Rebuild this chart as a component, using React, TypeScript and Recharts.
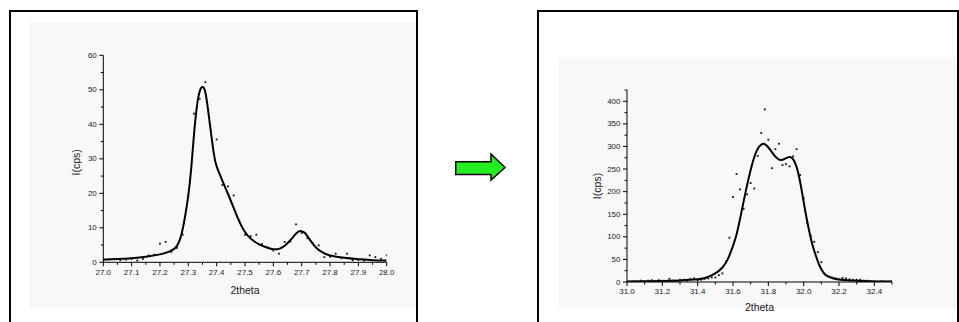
import React from 'react';
import { ComposedChart, Line, Scatter, XAxis, YAxis, Label } from 'recharts';

// ---------- Left panel (27.0 - 28.0) ----------
const leftPointTheta = [
  27.0, 27.02, 27.04, 27.06, 27.08, 27.1, 27.12, 27.14, 27.16, 27.18,
  27.2, 27.22, 27.24, 27.26, 27.28, 27.3, 27.32, 27.34, 27.36, 27.38,
  27.4, 27.42, 27.44, 27.46, 27.48, 27.5, 27.52, 27.54, 27.56, 27.58,
  27.6, 27.62, 27.64, 27.66, 27.68, 27.7, 27.72, 27.74, 27.76, 27.78,
  27.8, 27.82, 27.84, 27.86, 27.88, 27.9, 27.92, 27.94, 27.96, 27.98, 28.0,
];
const leftPointCps = [
  0.7, 0.9, 1.0, 0.6, 0.8, 1.0, 0.5, 1.0, 2.0, 2.2,
  5.4, 5.9, 3.0, 4.2, 8.0, 19.1, 43.1, 47.4, 52.2, 38.3,
  35.6, 22.4, 22.0, 19.4, 12.1, 8.0, 7.6, 8.0, 5.3, 4.3,
  3.4, 2.5, 5.9, 6.0, 11.0, 8.5, 7.0, 5.5, 4.9, 1.5,
  1.6, 2.5, 1.2, 2.5, 0.6, 0.7, 0.5, 2.0, 1.5, 1.0, 2.0,
];
const leftFitTheta = [
  27.0, 27.05, 27.1, 27.15, 27.2, 27.23, 27.25, 27.26, 27.27, 27.28,
  27.29, 27.3, 27.31, 27.32, 27.33, 27.34, 27.35, 27.36, 27.37, 27.38,
  27.39, 27.4, 27.42, 27.44, 27.46, 27.48, 27.5, 27.52, 27.55, 27.58,
  27.6, 27.62, 27.64, 27.66, 27.68, 27.695, 27.71, 27.72, 27.74, 27.76,
  27.78, 27.8, 27.85, 27.9, 27.95, 28.0,
];
const leftFitCps = [
  0.8, 0.95, 1.2, 1.6, 2.3, 3.0, 3.9, 4.8, 6.5, 9.6,
  14, 19.5, 27, 37, 45, 49.5, 50.8, 49.3, 44, 37.5,
  31.5, 27.8, 23.7, 19.8, 15.8, 11.8, 8.8, 6.9, 5.2, 4.2,
  3.8, 3.9, 4.8, 6.4, 8.3, 9.1, 8.6, 7.6, 5.3, 3.6,
  2.6, 2.0, 1.3, 0.9, 0.6, 0.5,
];
const leftXTicks = [27.0, 27.05, 27.1, 27.15, 27.2, 27.25, 27.3, 27.35, 27.4, 27.45, 27.5, 27.55, 27.6, 27.65, 27.7, 27.75, 27.8, 27.85, 27.9, 27.95, 28.0];
const leftXLabels = [27.0, 27.1, 27.2, 27.3, 27.4, 27.5, 27.6, 27.7, 27.8, 27.9, 28.0];
const leftYTicks = [0, 5, 10, 15, 20, 25, 30, 35, 40, 45, 50, 55, 60];
const leftYLabels = [0, 10, 20, 30, 40, 50, 60];

// ---------- Right panel (31.0 - 32.5) ----------
const rightPointTheta = [
  31.0, 31.02, 31.04, 31.06, 31.08, 31.1, 31.12, 31.14, 31.16, 31.18,
  31.2, 31.22, 31.24, 31.26, 31.28, 31.3, 31.32, 31.34, 31.36, 31.38,
  31.4, 31.42, 31.44, 31.46, 31.48, 31.5, 31.52, 31.54, 31.56, 31.58,
  31.6, 31.62, 31.64, 31.66, 31.68, 31.7, 31.72, 31.74, 31.76, 31.78,
  31.8, 31.82, 31.84, 31.86, 31.88, 31.9, 31.92, 31.94, 31.96, 31.98,
  32.0, 32.02, 32.04, 32.06, 32.08, 32.1, 32.12, 32.14, 32.16, 32.18,
  32.2, 32.22, 32.24, 32.26, 32.28, 32.3, 32.32, 32.34, 32.36, 32.38,
  32.4, 32.42, 32.44, 32.46, 32.48, 32.5,
];
const rightPointCps = [
  2, 1, 2, 1, 3, 2, 3, 4, 2, 4,
  3, 2, 7, 3, 2, 5, 5, 3, 7, 8,
  4, 5, 7, 8, 10, 10, 15, 19, 45, 98,
  188, 239, 205, 162, 194, 219, 207, 279, 330, 382,
  315, 252, 294, 306, 259, 261, 256, 278, 294, 237,
  185, 131, 102, 89, 66, 44, 17, 12, 10, 8,
  6, 9, 8, 6, 5, 5, 5, 3, 3, 2,
  2, 1, 2, 1, 1, 2,
];
const rightFitTheta = [
  31.0, 31.1, 31.2, 31.3, 31.4, 31.45, 31.5, 31.54, 31.57, 31.6,
  31.62, 31.64, 31.66, 31.68, 31.7, 31.72, 31.74, 31.76, 31.775, 31.79,
  31.81, 31.83, 31.85, 31.87, 31.89, 31.91, 31.93, 31.95, 31.97, 31.99,
  32.01, 32.03, 32.05, 32.07, 32.09, 32.11, 32.13, 32.16, 32.2, 32.3,
  32.4, 32.5,
];
const rightFitCps = [
  1, 1.5, 2.2, 3.5, 6, 10, 19, 32, 50, 80,
  105, 140, 178, 215, 248, 276, 295, 304, 306, 302,
  293, 282, 274, 270, 272, 276, 276, 265, 240, 200,
  155, 115, 82, 57, 36, 22, 14, 9, 5.5, 2.5,
  1.3, 1,
];
const rightXTicks = [31.0, 31.1, 31.2, 31.3, 31.4, 31.5, 31.6, 31.7, 31.8, 31.9, 32.0, 32.1, 32.2, 32.3, 32.4, 32.5];
const rightXLabels = [31.0, 31.2, 31.4, 31.6, 31.8, 32.0, 32.2, 32.4];
const rightYTicks = [0, 25, 50, 75, 100, 125, 150, 175, 200, 225, 250, 275, 300, 325, 350, 375, 400, 425];
const rightYLabels = [0, 50, 100, 150, 200, 250, 300, 350, 400];

const xTitle = '2theta';
const yTitle = 'I(cps)';

const FONT = '"Liberation Sans", Arial, sans-serif';
const TEXT = '#1a1a1a';

const zip = (xs: number[], ys: number[]) => xs.map((x, i) => ({ x, y: ys[i] }));

const isIn = (arr: number[], v: number) => arr.some((m) => Math.abs(m - v) < 1e-6);

const makeXTick = (labels: number[], labelDy: number) => (props: any) => {
  const { x, y, payload } = props;
  const v = payload.value as number;
  const major = isIn(labels, v);
  return (
    <g>
      <line x1={x} y1={y} x2={x} y2={y + (major ? 4 : 2.5)} stroke="#000" strokeWidth={1} />
      {major && (
        <text x={x} y={y + labelDy} textAnchor="middle" dominantBaseline="central" fontSize={8} fontFamily={FONT} fill={TEXT}>
          {v.toFixed(1)}
        </text>
      )}
    </g>
  );
};

const makeYTick = (labels: number[]) => (props: any) => {
  const { x, y, payload } = props;
  const v = payload.value as number;
  const major = isIn(labels, v);
  return (
    <g>
      <line x1={x - (major ? 4 : 2.5)} y1={y} x2={x} y2={y} stroke="#000" strokeWidth={1} />
      {major && (
        <text x={x - 6.5} y={y} textAnchor="end" dominantBaseline="central" fontSize={8} fontFamily={FONT} fill={TEXT}>
          {String(v)}
        </text>
      )}
    </g>
  );
};

const dotShape = (props: any) => {
  const { cx, cy } = props;
  if (cx == null || cy == null) return <g />;
  return <rect x={cx - 0.9} y={cy - 0.9} width={1.8} height={1.8} fill="#111" />;
};

const xTitleContent = (dy: number) => (props: any) => {
  const vb = props.viewBox || {};
  return (
    <text x={vb.x + vb.width / 2} y={vb.y + dy} textAnchor="middle" dominantBaseline="central" fontSize={10.5} fontFamily={FONT} fill={TEXT}>
      {xTitle}
    </text>
  );
};

const yTitleContent = (dx: number, dy: number) => (props: any) => {
  const vb = props.viewBox || {};
  const cx = vb.x + vb.width - dx;
  const cy = vb.y + vb.height / 2 + dy;
  return (
    <text x={cx} y={cy} transform={`rotate(-90, ${cx}, ${cy})`} textAnchor="middle" dominantBaseline="central" fontSize={10.5} fontFamily={FONT} fill={TEXT}>
      {yTitle}
    </text>
  );
};

const leftPoints = zip(leftPointTheta, leftPointCps);
const leftFit = zip(leftFitTheta, leftFitCps);
const rightPoints = zip(rightPointTheta, rightPointCps);
const rightFit = zip(rightFitTheta, rightFitCps);

export default function App() {
  return (
    <div style={{ position: 'absolute', left: 0, top: 0, width: 959, height: 322, background: '#fff', overflow: 'hidden' }}>
      {/* plot backgrounds */}
      <div style={{ position: 'absolute', left: 29, top: 22, width: 388, height: 287, background: '#f8f8f8' }} />
      <div style={{ position: 'absolute', left: 558, top: 57, width: 400, height: 251, background: '#f8f8f8' }} />
      {/* frames */}
      <div style={{ position: 'absolute', left: 9, top: 10, width: 409, height: 340, border: '2px solid #000', boxSizing: 'border-box' }} />
      <div style={{ position: 'absolute', left: 537, top: 10, width: 422, height: 340, border: '2px solid #000', boxSizing: 'border-box' }} />

      <div style={{ position: 'absolute', left: 0, top: 0 }}>
        <ComposedChart width={420} height={322} margin={{ top: 55.3, right: 33.3, bottom: 29.7, left: 63.3 }}>
          <XAxis
            type="number"
            dataKey="x"
            domain={[27, 28]}
            ticks={leftXTicks}
            interval={0}
            allowDataOverflow
            height={30}
            tickSize={0}
            tickMargin={0}
            tickLine={false}
            axisLine={{ stroke: '#000', strokeWidth: 1 }}
            tick={makeXTick(leftXLabels, 10.4)}
          >
            <Label content={xTitleContent(27.5)} />
          </XAxis>
          <YAxis
            type="number"
            dataKey="y"
            domain={[0, 60]}
            ticks={leftYTicks}
            interval={0}
            allowDataOverflow
            width={40}
            tickSize={0}
            tickMargin={0}
            tickLine={false}
            axisLine={{ stroke: '#000', strokeWidth: 1 }}
            tick={makeYTick(leftYLabels)}
          >
            <Label content={yTitleContent(27.5, 3.5)} />
          </YAxis>
          <Scatter data={leftPoints} dataKey="y" shape={dotShape} isAnimationActive={false} />
          <Line data={leftFit} dataKey="y" type="natural" stroke="#000" strokeWidth={2} dot={false} activeDot={false} isAnimationActive={false} />
        </ComposedChart>
      </div>

      <div style={{ position: 'absolute', left: 537, top: 0 }}>
        <ComposedChart width={422} height={322} margin={{ top: 90, right: 67, bottom: 10, left: 50 }}>
          <XAxis
            type="number"
            dataKey="x"
            domain={[31, 32.5]}
            ticks={rightXTicks}
            interval={0}
            allowDataOverflow
            height={30}
            tickSize={0}
            tickMargin={0}
            tickLine={false}
            axisLine={{ stroke: '#000', strokeWidth: 1 }}
            tick={makeXTick(rightXLabels, 9.7)}
          >
            <Label content={xTitleContent(24.7)} />
          </XAxis>
          <YAxis
            type="number"
            dataKey="y"
            domain={[0, 425]}
            ticks={rightYTicks}
            interval={0}
            allowDataOverflow
            width={40}
            tickSize={0}
            tickMargin={0}
            tickLine={false}
            axisLine={{ stroke: '#000', strokeWidth: 1 }}
            tick={makeYTick(rightYLabels)}
          >
            <Label content={yTitleContent(30, 0)} />
          </YAxis>
          <Scatter data={rightPoints} dataKey="y" shape={dotShape} isAnimationActive={false} />
          <Line data={rightFit} dataKey="y" type="natural" stroke="#000" strokeWidth={2} dot={false} activeDot={false} isAnimationActive={false} />
        </ComposedChart>
      </div>

      {/* arrow */}
      <svg style={{ position: 'absolute', left: 0, top: 0 }} width={959} height={322}>
        <polygon
          points="455.7,161.7 491,161.7 491,154 505,167.5 491,180 491,174.5 455.7,174.5"
          fill="#22ee22"
          stroke="#000"
          strokeWidth={1.5}
          strokeLinejoin="miter"
        />
      </svg>
    </div>
  );
}
